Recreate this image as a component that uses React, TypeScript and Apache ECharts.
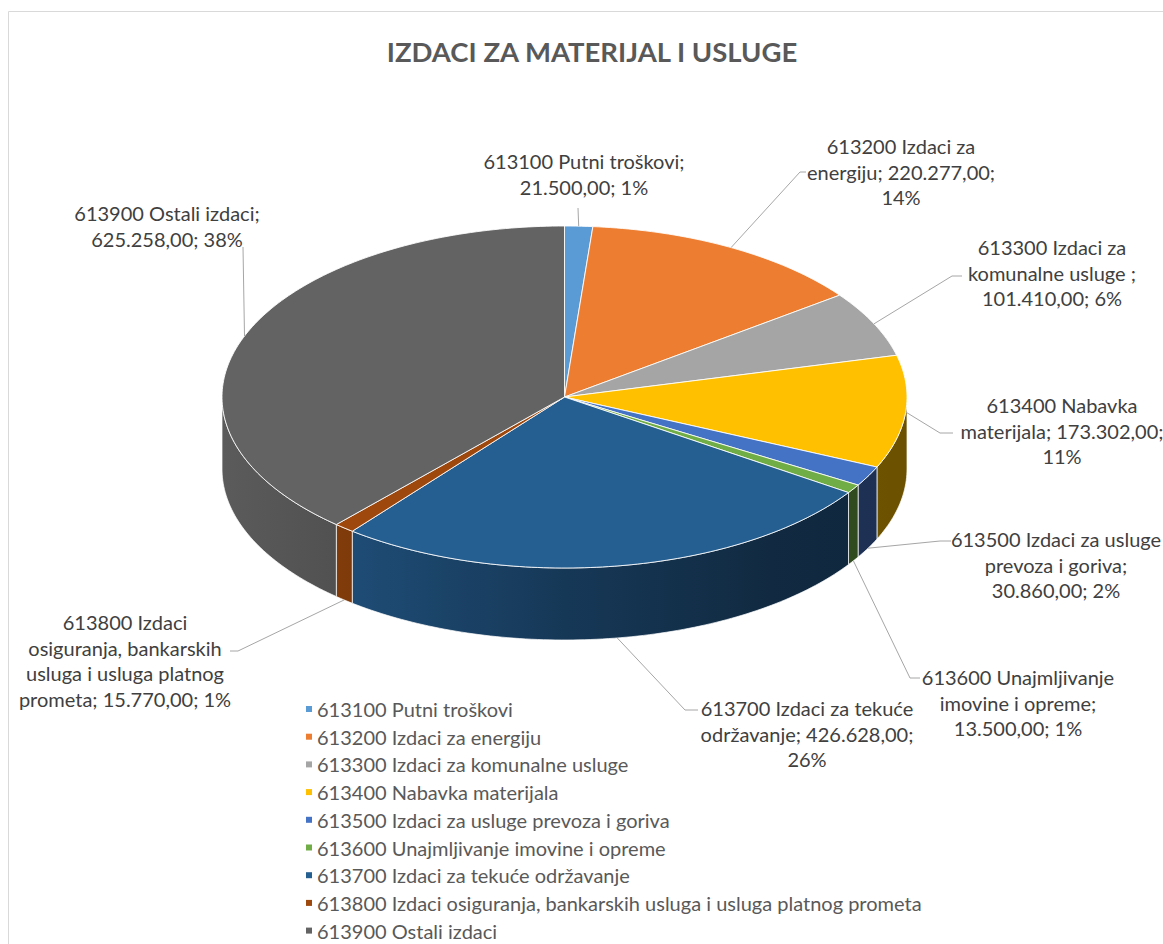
import React, { useEffect, useRef } from "react";
import * as echarts from "echarts";

// ---------- data ----------
const chartTitle = "IZDACI ZA MATERIJAL I USLUGE";
const categories = [
  "613100 Putni troškovi",
  "613200 Izdaci za energiju",
  "613300 Izdaci za komunalne usluge ",
  "613400 Nabavka materijala",
  "613500 Izdaci za usluge prevoza i goriva",
  "613600 Unajmljivanje imovine i opreme",
  "613700 Izdaci za tekuće održavanje",
  "613800 Izdaci osiguranja, bankarskih usluga i usluga platnog prometa",
  "613900 Ostali izdaci",
];
const values = [21500, 220277, 101410, 173302, 30860, 13500, 426628, 15770, 625258];
const colors = ["#5B9BD5", "#ED7D31", "#A5A5A5", "#FFC000", "#4472C4", "#70AD47", "#255E91", "#9E480E", "#636363"];

// ---------- label layout ----------
const labelCenterX = [584, 901, 1052, 1062, 1056, 1018, 807, 125, 167];
const labelFirstLineY = [161, 146, 247, 405, 539, 677, 708, 622, 213];
const labelWordsPerLine = [[3, 2], [3, 2, 1], [3, 3, 2], [2, 2, 1], [4, 3, 2], [2, 3, 2], [4, 2, 1], [2, 2, 4, 3], [3, 2]];
const leaderElbow: (number[] | null)[] = [null, [800, 172], [952, 276], [940, 433], [940, 541], [910, 678], [685, 710], [238, 651], null];
const leaderEnd = [[578, 208], [806, 172], [962, 276], [953, 433], [951, 541], [920, 678], [698, 710], [230, 651], [243, 247]];

const FONT = "Lato, 'Noto Sans', sans-serif";
const CX = 564.5, CY = 397, RX = 342.5, RY = 171, DEPTH = 72;
const TAU = Math.PI * 2;
const LINE_H = 25.5;
const FS = 20;

const total = values.reduce((a, b) => a + b, 0);
const startVals = values.map((_, i) => values.slice(0, i).reduce((a, b) => a + b, 0));

function fmt(v: number) {
  return String(v).replace(/\B(?=(\d{3})+(?!\d))/g, ".") + ",00";
}
function ep(t: number, dy = 0) {
  return [CX + RX * Math.sin(t), CY - RY * Math.cos(t) + dy];
}
function arc(t0: number, t1: number, dy: number) {
  const n = Math.max(2, Math.ceil((t1 - t0) / (Math.PI / 180)));
  const pts: number[][] = [];
  for (let k = 0; k <= n; k++) pts.push(ep(t0 + ((t1 - t0) * k) / n, dy));
  return pts;
}
function shade(hex: string, f: number) {
  const n = parseInt(hex.slice(1), 16);
  const r = Math.round(((n >> 16) & 255) * f);
  const g = Math.round(((n >> 8) & 255) * f);
  const b = Math.round((n & 255) * f);
  return `rgb(${r},${g},${b})`;
}
function sideFill(hex: string) {
  return new echarts.graphic.LinearGradient(
    CX - RX, 0, CX + RX, 0,
    [
      { offset: 0, color: shade(hex, 0.92) },
      { offset: 0.2, color: shade(hex, 0.8) },
      { offset: 0.5, color: shade(hex, 0.6) },
      { offset: 0.8, color: shade(hex, 0.45) },
      { offset: 1, color: shade(hex, 0.42) },
    ],
    true
  );
}
function labelText(i: number) {
  const pct = Math.round((values[i] / total) * 100);
  const full = `${categories[i]}; ${fmt(values[i])}; ${pct}%`;
  const tokens = full.split(" ").filter((t) => t.length > 0);
  const lines: string[] = [];
  let p = 0;
  for (const c of labelWordsPerLine[i]) {
    lines.push(tokens.slice(p, p + c).join(" "));
    p += c;
  }
  return lines.join("\n");
}

export default function App() {
  const ref = useRef<HTMLDivElement>(null);
  useEffect(() => {
    if (!ref.current) return;
    const chart = echarts.init(ref.current, null, { renderer: "svg" });
    const series = categories.map((name, i) => ({
      type: "custom",
      name,
      coordinateSystem: "none",
      itemStyle: { color: colors[i] },
      data: [[values[i]]],
      renderItem: (params: any, api: any) => {
        const v = api.value(0) as number;
        const a0 = (startVals[i] / total) * TAU;
        const a1 = a0 + (v / total) * TAU;
        const children: any[] = [];
        const s0 = Math.max(a0, Math.PI / 2);
        const s1 = Math.min(a1, 1.5 * Math.PI);
        if (s1 > s0) {
          const top = arc(s0, s1, 0);
          const bot = arc(s0, s1, DEPTH).reverse();
          children.push({
            type: "polygon",
            shape: { points: top.concat(bot) },
            style: { fill: sideFill(colors[i]), stroke: "rgba(255,255,255,0.7)", lineWidth: 1 },
          });
        }
        children.push({
          type: "polygon",
          shape: { points: [[CX, CY], ...arc(a0, a1, 0)] },
          style: { fill: api.visual("color"), stroke: "rgba(255,255,255,0.85)", lineWidth: 1 },
        });
        const m = (a0 + a1) / 2;
        const anchor = ep(m, Math.cos(m) < -0.2 ? DEPTH : 0);
        const pts = [anchor];
        const el = leaderElbow[i];
        if (el) pts.push(el);
        pts.push(leaderEnd[i]);
        children.push({
          type: "polyline",
          z2: 100,
          shape: { points: pts },
          style: { stroke: "#A6A6A6", lineWidth: 1, fill: null },
        });
        children.push({
          type: "text",
          z2: 100,
          x: labelCenterX[i],
          y: labelFirstLineY[i] - LINE_H / 2,
          style: {
            text: labelText(i),
            fill: "#404040",
            fontFamily: FONT,
            fontSize: FS,
            lineHeight: LINE_H,
            align: "center",
            textAlign: "center",
            verticalAlign: "top",
            textVerticalAlign: "top",
          },
        });
        return { type: "group", children };
      },
    }));

    chart.setOption({
      animation: false,
      backgroundColor: "#ffffff",
      title: {
        text: chartTitle,
        left: 592,
        top: 36,
        textAlign: "center",
        padding: 0,
        textStyle: { fontFamily: FONT, fontSize: 27.5, fontWeight: "bold", color: "#595959", lineHeight: 30 },
      },
      legend: {
        data: categories,
        orient: "vertical",
        left: 306,
        top: 699,
        height: 300,
        padding: 0,
        itemGap: 7.7,
        icon: "rect",
        itemWidth: 6,
        itemHeight: 6,
        selectedMode: false,
        textStyle: { fontFamily: FONT, fontSize: FS, color: "#595959", lineHeight: 18 },
      },
      graphic: [
        {
          type: "rect",
          z: -10,
          shape: { x: 8.5, y: 11.5, width: 1300, height: 1100 },
          style: { fill: "none", stroke: "#D9D9D9", lineWidth: 1 },
        },
      ],
      series,
    });
    return () => chart.dispose();
  }, []);
  return (
    <div
      ref={ref}
      style={{ position: "fixed", left: 0, top: 0, width: 1163, height: 944, background: "#fff" }}
    />
  );
}
